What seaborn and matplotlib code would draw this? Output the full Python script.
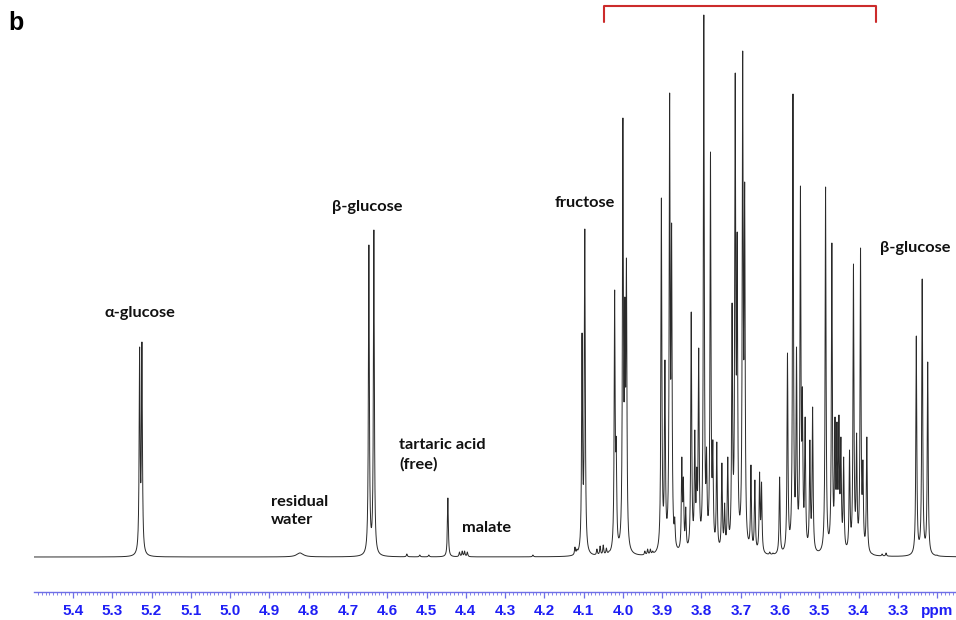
import numpy as np
import pandas as pd
import seaborn as sns
import matplotlib.pyplot as plt

# peak list: position (ppm) and peak top (arbitrary units)
peak_ppm = [5.2304, 5.2245,
            4.6467, 4.6340,
            4.550, 4.517, 4.494, 4.4456,
            4.416, 4.409, 4.403, 4.396, 4.229,
            4.122, 4.117, 4.104, 4.097,
            4.066, 4.058, 4.050, 4.042, 4.035,
            4.021, 4.017, 4.000, 3.995, 3.991,
            3.944, 3.937, 3.930, 3.924,
            3.902, 3.893, 3.881, 3.876, 3.868, 3.850, 3.846, 3.840,
            3.826, 3.817, 3.812, 3.807, 3.794, 3.787,
            3.777, 3.771, 3.761, 3.748, 3.741, 3.733,
            3.722, 3.714, 3.709, 3.695, 3.690,
            3.674, 3.664, 3.652, 3.647, 3.626, 3.618, 3.601,
            3.581, 3.567, 3.558, 3.548, 3.543, 3.536, 3.524, 3.517,
            3.484, 3.468, 3.460, 3.455, 3.450, 3.445, 3.438,
            3.423, 3.413, 3.405, 3.395, 3.389, 3.379,
            3.365, 3.340, 3.330,
            3.253, 3.238, 3.224, 3.200]
peak_height = [210, 215,
               312, 327,
               3, 2, 2, 59,
               5, 6, 6, 5, 2,
               10, 8, 224, 328,
               8, 11, 12, 9, 6,
               267, 120, 439, 260, 299,
               6, 8, 8, 6,
               359, 197, 464, 334, 40, 100, 80, 50,
               245, 127, 90, 209, 542, 110,
               405, 117, 115, 94, 54, 100,
               254, 484, 325, 506, 375,
               92, 77, 85, 75, 5, 4, 80,
               204, 463, 210, 371, 170, 140, 117, 150,
               370, 314, 140, 135, 142, 120, 100,
               107, 293, 124, 309, 97, 120,
               3, 3, 4,
               221, 278, 195, 2]

# broad residual water signal
water_ppm = [4.822]
water_height = [4]

tick_values = [5.4, 5.3, 5.2, 5.1, 5.0, 4.9, 4.8, 4.7, 4.6, 4.5, 4.4, 4.3,
               4.2, 4.1, 4.0, 3.9, 3.8, 3.7, 3.6, 3.5, 3.4, 3.3, 3.2]
tick_labels = ['5.4', '5.3', '5.2', '5.1', '5.0', '4.9', '4.8', '4.7', '4.6',
               '4.5', '4.4', '4.3', '4.2', '4.1', '4.0', '3.9', '3.8', '3.7',
               '3.6', '3.5', '3.4', '3.3', 'ppm']

labels = [('α-glucose', 5.2295, 244, 'center'),
          ('residual\nwater', 4.896, 46, 'left'),
          ('β-glucose', 4.6517, 350, 'center'),
          ('tartaric acid\n(free)', 4.5703, 102, 'left'),
          ('malate', 4.410, 29, 'left'),
          ('fructose', 4.0969, 354, 'center'),
          ('β-glucose', 3.257, 309, 'center')]

# Lorentzian line shapes
gamma = 0.0014
ppm = np.arange(3.150, 5.500, 0.0001)
pos = np.array(peak_ppm)
target = np.array(peak_height, dtype=float)


def lor(x, x0, g):
    return 1.0 / (1.0 + ((x - x0) / g) ** 2)


# correct amplitudes so that overlapping lines still reach the read peak tops
A = lor(pos[:, None], pos[None, :], gamma)
amp = target.copy()
for _ in range(80):
    amp = np.clip(target - (A @ amp - amp), 0.3, None)

spec = (amp[None, :] * lor(ppm[:, None], pos[None, :], gamma)).sum(axis=1)
for p, h in zip(water_ppm, water_height):
    spec += h * lor(ppm, p, 0.01)

df = pd.DataFrame({'ppm': ppm, 'intensity': spec})

sns.set_theme(style='white')
fig = plt.figure(figsize=(9.56, 6.2), dpi=100)
ax = fig.add_axes([34 / 956, 28 / 620, 922 / 956, 592 / 620])

sns.lineplot(data=df, x='ppm', y='intensity', sort=False, estimator=None,
             color='#2a2a2a', linewidth=0.7, ax=ax)

ax.set_xlim(5.4993, 3.152)
ax.set_ylim(-35, 557)
ax.set_xlabel('')
ax.set_ylabel('')
ax.set_yticks([])
for s in ['left', 'right', 'top']:
    ax.spines[s].set_visible(False)
ax.spines['bottom'].set_color('#6f6fe6')
ax.spines['bottom'].set_linewidth(1.0)

ax.set_xticks(tick_values)
ax.set_xticklabels(tick_labels)
ax.set_xticks(np.arange(3.16, 5.5, 0.01), minor=True)
ax.tick_params(axis='x', which='major', direction='out', length=4.5, width=0.9,
               color='#6f6fe6', pad=4, bottom=True)
ax.tick_params(axis='x', which='minor', direction='out', length=2.2, width=0.6,
               color='#6f6fe6', bottom=True)
for t in ax.get_xticklabels():
    t.set_fontfamily('Liberation Sans')
    t.set_fontweight('bold')
    t.set_fontsize(11)
    t.set_color('#1f1ff5')

# red bracket over the crowded sugar region
ax.plot([4.0485, 4.0485, 3.356, 3.356], [535, 551, 551, 535],
        color='#cc2b2b', linewidth=1.5, clip_on=False)

for text, x, y, ha in labels:
    ax.text(x, y, text, ha=ha, va='center', fontsize=11.8, fontweight='bold',
            family='Lato', color='#111111', linespacing=1.45)

fig.text(0.009, 0.963, 'b', fontsize=18, fontweight='bold',
         family='Liberation Sans', color='black', va='center', ha='left')

fig.savefig('out.png', dpi=100)
